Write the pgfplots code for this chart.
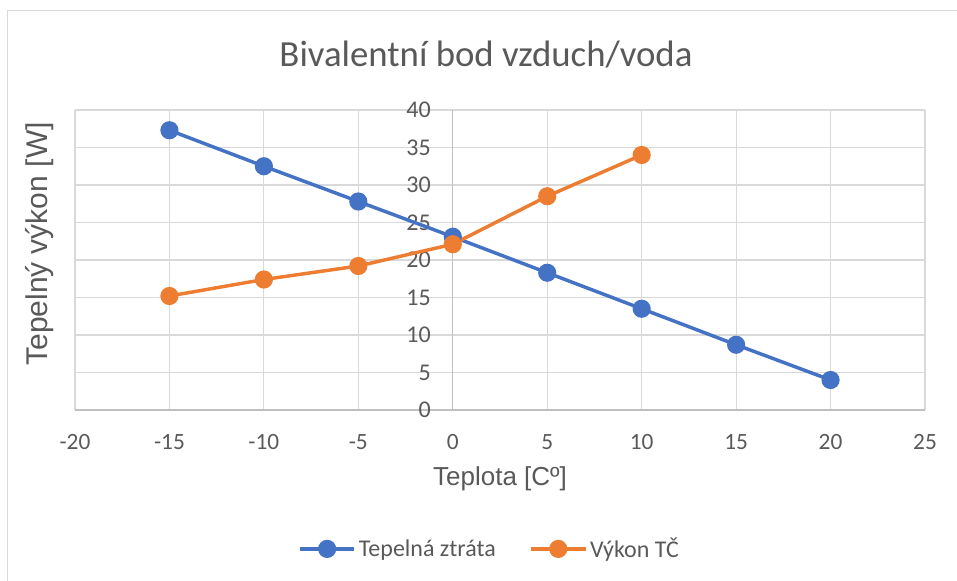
\documentclass[border=0pt]{standalone}
\usepackage{fontspec}
\setmainfont{Carlito}
\newfontfamily\arialf{Liberation Sans}
\usepackage{pgfplots}
\pgfplotsset{compat=1.18}
\definecolor{ablue}{HTML}{4472C4}
\definecolor{aorange}{HTML}{ED7D31}
\definecolor{gridc}{HTML}{D9D9D9}
\definecolor{axisgray}{HTML}{BFBFBF}
\definecolor{txt}{HTML}{595959}
\begin{document}
\begin{tikzpicture}
\draw[gridc, line width=0.75pt] (5.25pt,427.5pt) rectangle (750pt,-50pt);
\node[txt, font=\fontsize{27.6}{33}\selectfont] at (364.5pt,394.5pt) {Bivalentní bod vzduch/voda};
\node[txt, font=\arialf\fontsize{19.5}{23}\selectfont] at (375pt,76.5pt) {Teplota [Cº]};
\node[txt, font=\arialf\fontsize{22.5}{26}\selectfont, rotate=90] at (30pt,252.75pt) {Tepelný výkon [W]};
\begin{axis}[
 at={(56.25pt,128.25pt)}, anchor=south west,
 scale only axis, width=637.5pt, height=225pt,
 xmin=-20, xmax=25, ymin=0, ymax=40,
 xtick={-20,-15,...,25}, ytick={0,5,...,40},
 axis x line=bottom, axis y line=center,
 hide obscured x ticks=false, hide obscured y ticks=false,
 axis line style={draw=axisgray, line width=0.9pt, -},
 grid=major, major grid style={gridc, line width=0.9pt},
 major tick length=0pt, tick style={draw=none},
 /pgf/number format/assume math mode=true,
 tick label style={txt},
 xticklabel style={yshift=-14.5pt, font=\fontsize{17.5}{21}\selectfont},
 yticklabel style={xshift=-13pt, font=\fontsize{18}{21}\selectfont},
 legend columns=2,
 legend style={at={(rel axis cs:0.488,-0.463)}, anchor=center, draw=none, fill=none,
   font=\fontsize{18}{21}\selectfont, text=txt,
   /tikz/every even column/.append style={column sep=23pt}},
 legend image code/.code={\draw[mark repeat=2,mark phase=2] plot coordinates {(0pt,0pt) (20.5pt,0pt) (41pt,0pt)};},
]
\addplot[ablue, line width=2.6pt, mark=*, mark size=5.5pt] coordinates {
 (-15,37.3) (-10,32.5) (-5,27.8) (0,23.1) (5,18.3) (10,13.5) (15,8.7) (20,4.0)};
\addlegendentry{Tepelná ztráta}
\addplot[aorange, line width=2.6pt, mark=*, mark size=5.5pt] coordinates {
 (-15,15.2) (-10,17.4) (-5,19.2) (0,22.1) (5,28.5) (10,34.0)};
\addlegendentry{Výkon TČ}
\end{axis}
\pgfresetboundingbox
\useasboundingbox (0pt,0pt) rectangle (717.75pt,435.75pt);
\end{tikzpicture}
\end{document}
